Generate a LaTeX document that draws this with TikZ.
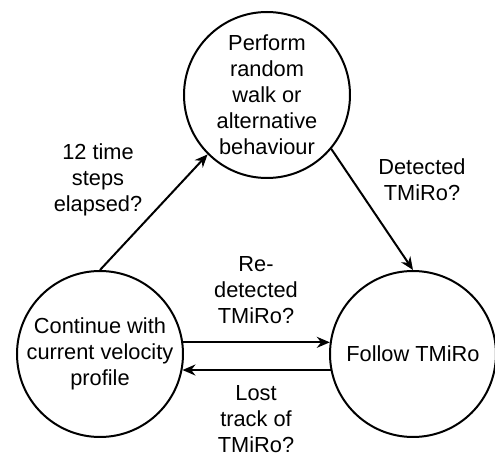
\documentclass[tikz,border=0pt]{standalone}
\usepackage{fontspec}
\setmainfont{Liberation Sans}
\usetikzlibrary{arrows.meta}
\def\statesize{83pt}
\def\statelinewidth{1pt}
\tikzset{
  state/.style={draw, circle, line width=\statelinewidth, minimum size=\statesize, inner sep=0pt, align=center},
  trans/.style={-{Stealth[length=6.5pt,width=5.5pt]}, line width=\statelinewidth},
  translabel/.style={align=center}
}

\begin{document}
\begin{tikzpicture}[x=0.5pt,y=-0.5pt, every node/.style={font=\fontsize{10.9}{13}\selectfont}]
        \useasboundingbox (0,0) rectangle (495,455);
        % the three states
        \node[state] (walk) at (267,95) {Perform\\random\\walk or\\alternative\\behaviour};
        \node[state] (keep) at (100,354) {Continue with\\current velocity\\profile};
        \node[state] (follow) at (413,354) {Follow TMiRo};
        % transitions
        \draw[trans] (keep.north) -- (walk.225);
        \draw[trans] (walk.-40) -- (follow.north);
        \draw[trans] (keep.8) -- (follow.172);
        \draw[trans] (follow.-169) -- (keep.-11);
        % transition labels
        \node[translabel] (elapsed) at (98,180) {12 time\\steps\\elapsed?};
        \node[translabel] (detected) at (422,180) {Detected\\TMiRo?};
        \node[translabel] (redetected) at (256,290) {Re-\\detected\\TMiRo?};
        \node[translabel] (lost) at (256,419) {Lost\\track of\\TMiRo?};
    \end{tikzpicture}
\end{document}
